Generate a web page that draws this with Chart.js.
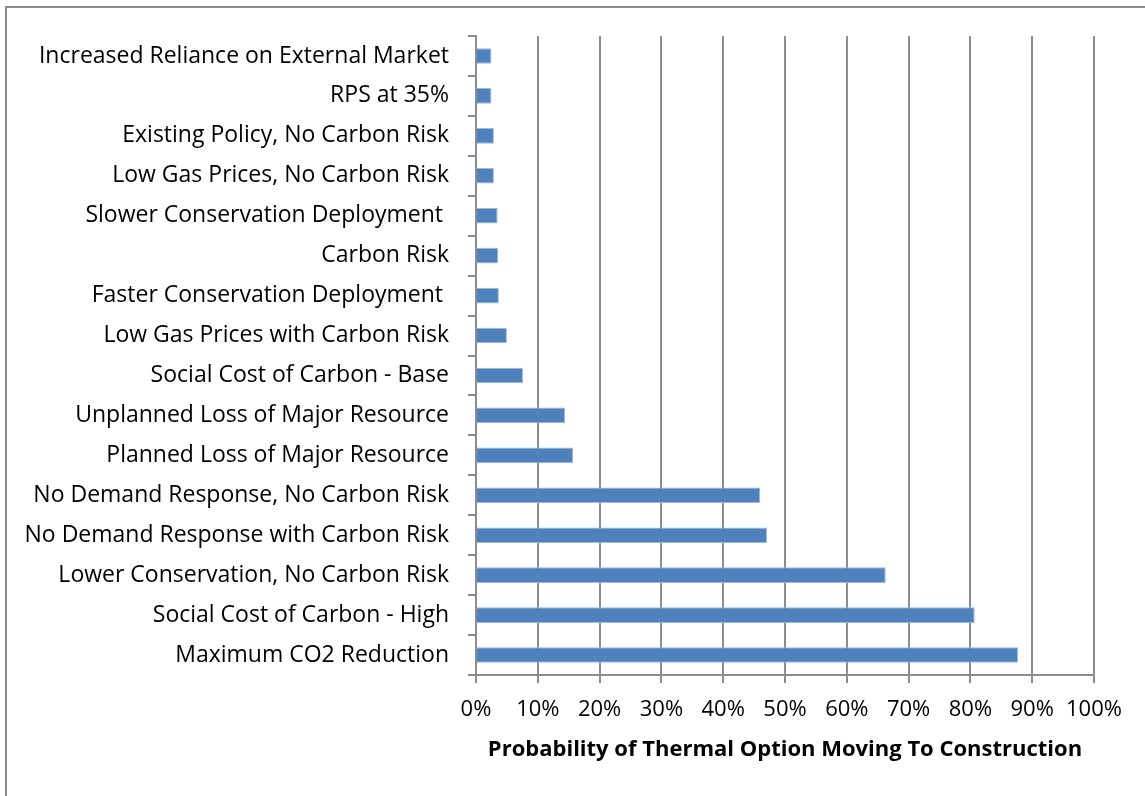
<!DOCTYPE html>
<html>
<head>
<meta charset="utf-8">
<script src="https://cdn.jsdelivr.net/npm/chart.js@4"></script>
<style>
  html, body { margin: 0; padding: 0; background: #ffffff; overflow: hidden; }
  #wrap { position: relative; width: 1145px; height: 796px; }
  #frame { position: absolute; left: 5px; top: 6px; width: 2000px; height: 2000px;
           border-left: 2px solid #8c8c8c; border-top: 2px solid #8c8c8c; box-sizing: border-box; }
  canvas { position: absolute; left: 0; top: 0; }
</style>
</head>
<body>
<div id="wrap">
  <div id="frame"></div>
  <canvas id="c" width="1145" height="796"></canvas>
</div>
<script>
// Scenarios, listed top to bottom
const scenarios = [
  'Increased Reliance on External Market',
  'RPS at 35%',
  'Existing Policy, No Carbon Risk',
  'Low Gas Prices, No Carbon Risk',
  'Slower Conservation Deployment ',
  'Carbon Risk',
  'Faster Conservation Deployment ',
  'Low Gas Prices with Carbon Risk',
  'Social Cost of Carbon - Base',
  'Unplanned Loss of Major Resource',
  'Planned Loss of Major Resource',
  'No Demand Response, No Carbon Risk',
  'No Demand Response with Carbon Risk',
  'Lower Conservation, No Carbon Risk',
  'Social Cost of Carbon - High',
  'Maximum CO2 Reduction'
];

// Probability (%) that the thermal option moves to construction
const probability = [2.5, 2.5, 2.9, 2.9, 3.5, 3.6, 3.7, 5.0, 7.6, 14.4, 15.7, 46.0, 47.1, 66.3, 80.7, 87.7];

// Horizontal axis labels
const xTickLabels = ['0%', '10%', '20%', '30%', '40%', '50%', '60%', '70%', '80%', '90%', '100%'];

const axisTitle = 'Probability of Thermal Option Moving To Construction';

const FONT = "'Open Sans', sans-serif";
const GRID = '#8c8c8c';

new Chart(document.getElementById('c'), {
  type: 'bar',
  data: {
    labels: scenarios,
    datasets: [{
      data: probability,
      backgroundColor: '#4f81bd',
      borderColor: '#9db9de',
      borderWidth: 1,
      borderSkipped: 'start',
      barPercentage: 0.39,
      categoryPercentage: 1.0
    }]
  },
  options: {
    indexAxis: 'y',
    responsive: false,
    animation: false,
    devicePixelRatio: 1,
    layout: { padding: { left: 0, right: 51, top: 36, bottom: 0 } },
    plugins: { legend: { display: false }, tooltip: { enabled: false } },
    scales: {
      y: {
        afterFit: s => { s.width = 476; },
        grid: { display: true, drawOnChartArea: false, drawTicks: true, tickLength: 8, color: GRID, lineWidth: 2, offset: true },
        border: { display: true, color: GRID, width: 2 },
        ticks: { color: '#000', padding: 19, font: { family: FONT, size: 23 }, autoSkip: false }
      },
      x: {
        min: 0,
        max: 100,
        afterFit: s => { s.height = 121; },
        afterBuildTicks: s => { s.ticks = xTickLabels.map((_, i) => ({ value: i * 10 })); },
        grid: { display: true, drawOnChartArea: true, drawTicks: true, tickLength: 8, color: GRID, lineWidth: 2 },
        border: { display: true, color: GRID, width: 2 },
        ticks: {
          color: '#000', padding: 14, maxRotation: 0, autoSkip: false,
          font: { family: FONT, size: 22 },
          callback: (v, i) => xTickLabels[i]
        },
        title: {
          display: true, text: axisTitle, color: '#000',
          font: { family: FONT, size: 22, weight: 'bold' },
          padding: { top: 0, bottom: 33 }
        }
      }
    }
  }
});
</script>
</body>
</html>
